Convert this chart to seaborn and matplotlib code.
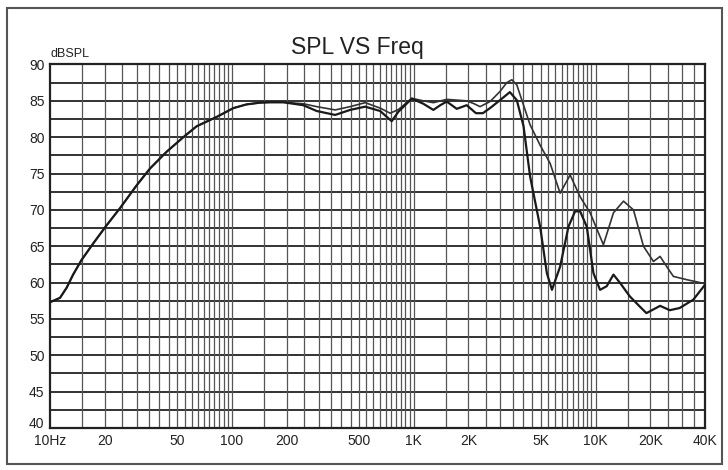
import matplotlib
matplotlib.use("Agg")
import matplotlib.pyplot as plt
import matplotlib.transforms as mtransforms
from matplotlib.patches import Rectangle
import numpy as np
import pandas as pd
import seaborn as sns

# curve A: higher peak near 3.5K, gradual roll-off
freq_a = [10, 11.35, 12.35, 13.4, 14.9, 17.3, 20.5, 24.2, 30, 35.5, 43.8, 54.1, 64, 82.7,
          102, 120, 143, 162, 192, 247, 293, 370, 447, 541, 654, 742, 824, 976, 1130, 1283,
          1520, 1725, 1958, 2150, 2317, 2630, 2986, 3250, 3465, 3690, 3934, 4367, 4958, 5628,
          6388, 7250, 8228, 9340, 11050, 12550, 14250, 16170, 18350, 20820, 22650, 24640,
          26800, 31750, 40000]
spl_a = [57.3, 57.9, 59.3, 61.1, 63.1, 65.4, 67.9, 70.2, 73.4, 75.7, 78.0, 80.0, 81.5, 82.8,
         84.0, 84.5, 84.75, 84.8, 84.8, 84.6, 84.2, 83.75, 84.2, 84.75, 84.0, 83.3, 83.8, 85.35,
         85.0, 84.75, 85.2, 85.1, 85.0, 84.6, 84.2, 84.9, 86.3, 87.5, 87.9, 87.2, 85.1, 81.7,
         78.9, 76.4, 72.3, 74.8, 71.8, 69.6, 65.2, 69.6, 71.2, 70.0, 65.0, 62.9, 63.6, 62.2,
         60.85, 60.4, 59.85]

# curve B: lower peak, deep notches at 5.7K and 10K
freq_b = [10, 11.35, 12.35, 13.4, 14.9, 17.3, 20.5, 24.2, 30, 35.5, 43.8, 54.1, 64, 82.7,
          102, 120, 143, 162, 192, 247, 293, 370, 447, 541, 654, 757, 824, 976, 1130, 1283,
          1400, 1520, 1725, 1958, 2200, 2400, 2630, 2986, 3380, 3690, 4020, 4367, 4958, 5400,
          5760, 6388, 7100, 7720, 8228, 8950, 9740, 10590, 11520, 12550, 13650, 15440, 17520,
          19050, 22650, 25630, 29000, 34500, 40000]
spl_b = [57.3, 57.9, 59.3, 61.1, 63.1, 65.4, 67.9, 70.2, 73.4, 75.7, 78.0, 80.0, 81.5, 82.8,
         84.0, 84.5, 84.75, 84.8, 84.8, 84.4, 83.6, 83.06, 83.75, 84.2, 83.6, 82.2, 83.5, 85.3,
         84.6, 83.75, 84.4, 84.9, 83.9, 84.4, 83.3, 83.3, 84.0, 85.1, 86.2, 85.1, 81.5, 74.6,
         67.7, 61.3, 59.0, 62.2, 67.7, 69.8, 69.8, 67.7, 61.3, 59.0, 59.5, 61.1, 59.95, 58.1,
         56.7, 55.8, 56.8, 56.2, 56.5, 57.65, 59.7]

x_ticks = [10, 20, 50, 100, 200, 500, 1000, 2000, 5000, 10000, 20000, 40000]
x_labels = ["10Hz", "20", "50", "100", "200", "500", "1K", "2K", "5K", "10K", "20K", "40K"]

df = pd.concat([
    pd.DataFrame({"freq": freq_a, "spl": spl_a, "curve": "A"}),
    pd.DataFrame({"freq": freq_b, "spl": spl_b, "curve": "B"}),
])

sns.set_style("white")
plt.rcParams["font.family"] = ["Liberation Sans", "DejaVu Sans"]

fig = plt.figure(figsize=(7.28, 4.70), dpi=100)
ax = fig.add_axes([0.0687, 0.0894, 0.8997, 0.7734])

# odd log grid: every half step inside each decade
grid_x = [m * 10 ** d for d in range(1, 5) for m in np.arange(1.5, 10.01, 0.5)]
grid_x = [g for g in grid_x if g < 40000]

ax.set_xscale("log")
ax.set_xlim(10, 40000)
ax.set_ylim(40, 90)
ax.set_xticks(x_ticks)
ax.set_xticklabels(x_labels)
ax.set_xticks(grid_x, minor=True)
ax.xaxis.set_minor_formatter(plt.NullFormatter())
ax.set_yticks(np.arange(40, 91, 5))
ax.set_yticks(np.arange(40, 91, 2.5), minor=True)
ax.tick_params(which="both", length=0, labelsize=10, colors="#222")
ax.tick_params(axis="x", pad=4)
ax.tick_params(axis="y", pad=4)

# lift the bottom "40" label a bit, as in the original
lab40 = ax.get_yticklabels()[0]
lab40.set_transform(lab40.get_transform() + mtransforms.ScaledTranslation(0, 4 / 72, fig.dpi_scale_trans))

ax.grid(False)
for g in grid_x:
    ax.axvline(g, color="#555", lw=0.9, zorder=1)
ax.yaxis.grid(True, which="both", color="#222", lw=1.3, zorder=1)
ax.set_axisbelow(True)

sns.lineplot(data=df, x="freq", y="spl", hue="curve", palette={"A": "#333", "B": "#1a1a1a"},
             estimator=None, sort=False, ax=ax, legend=False, zorder=3)
lines = ax.get_lines()
lines[-2].set_linewidth(1.2)
lines[-1].set_linewidth(1.6)

for s in ax.spines.values():
    s.set_color("#222")
    s.set_linewidth(1.6)

ax.set_xlabel("")
ax.set_ylabel("")
ax.text(0.469, 1.015, "SPL VS Freq", transform=ax.transAxes, fontsize=16.5, color="#222",
        ha="center", va="bottom")
ax.text(0.0, 1.012, "dBSPL", transform=ax.transAxes, fontsize=9, color="#222",
        ha="left", va="bottom")

fig.patches.append(Rectangle((7 / 728, 6 / 470), 715 / 728, 456 / 470, transform=fig.transFigure,
                             fill=False, edgecolor="#555", lw=1.5))

fig.savefig("out.png", dpi=100)
